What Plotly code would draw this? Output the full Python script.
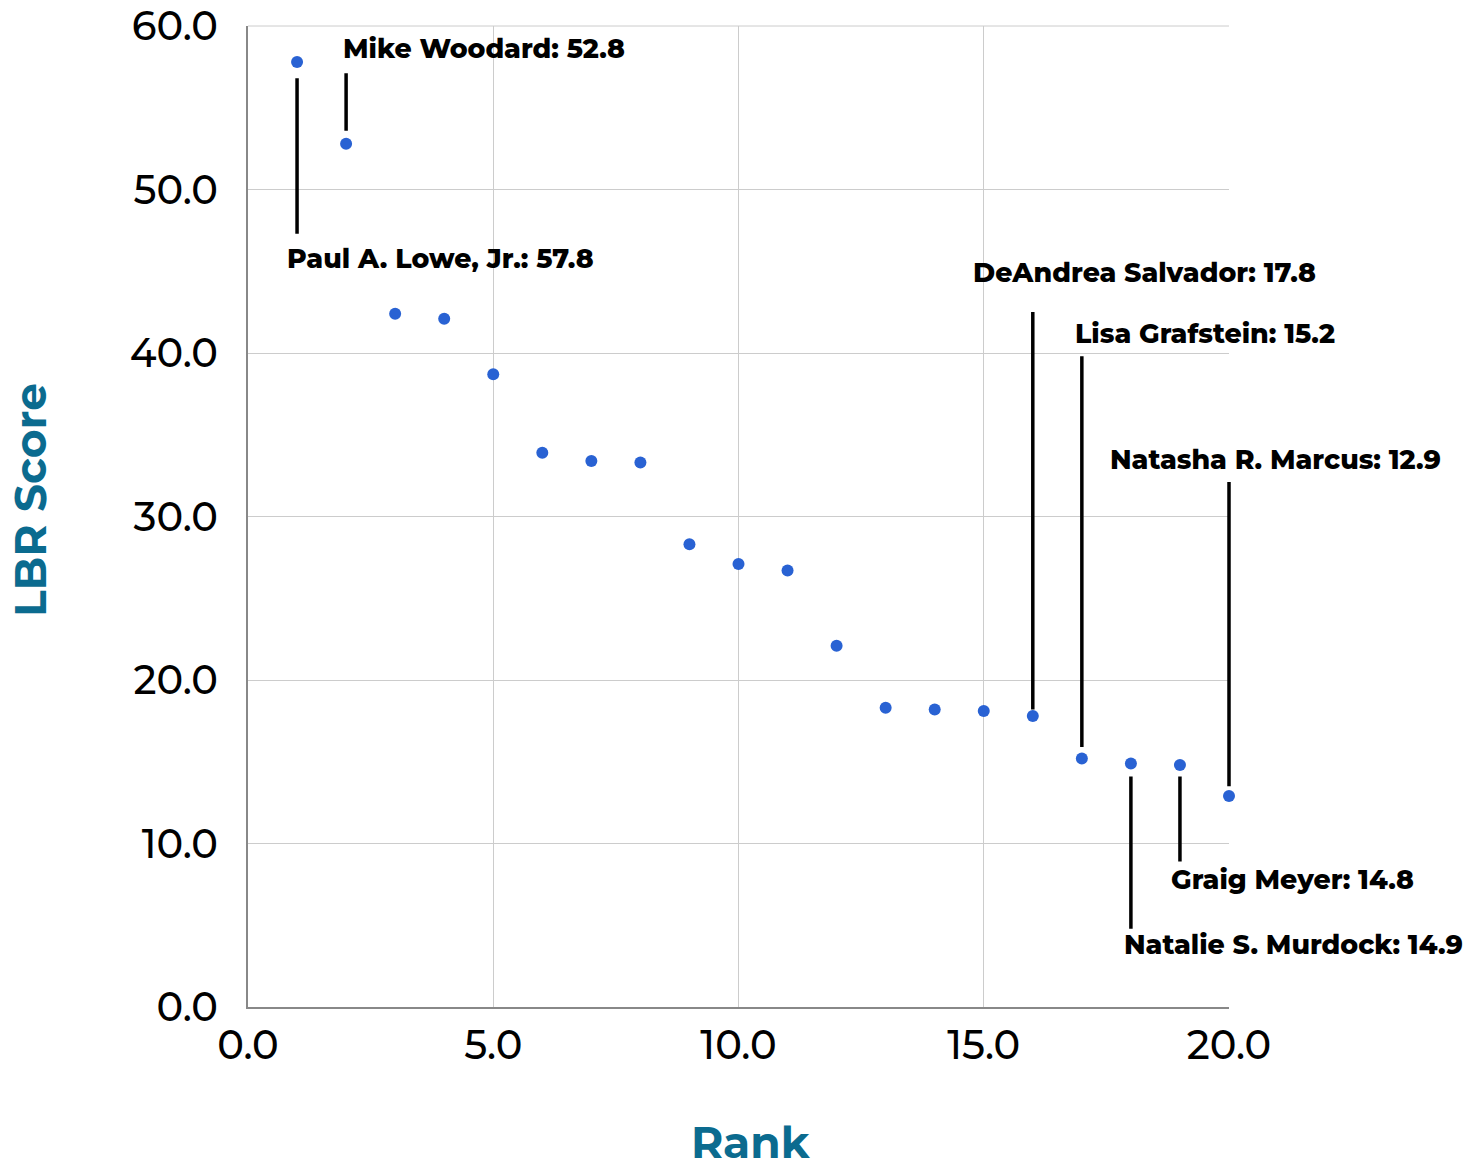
import plotly.graph_objects as go

ranks = list(range(1, 21))
scores = [57.8, 52.8, 42.4, 42.1, 38.7, 33.9, 33.4, 33.3, 28.3, 27.1,
          26.7, 22.1, 18.3, 18.2, 18.1, 17.8, 15.2, 14.9, 14.8, 12.9]

# labelled points
lab_names = ["Paul A. Lowe, Jr.", "Mike Woodard", "DeAndrea Salvador", "Lisa Grafstein",
             "Natasha R. Marcus", "Natalie S. Murdock", "Graig Meyer"]
lab_rank = [1, 2, 16, 17, 20, 18, 19]
lab_score = [57.8, 52.8, 17.8, 15.2, 12.9, 14.9, 14.8]
# leader line extents (data units) and label positions
line_y0 = [56.8, 53.6, 18.2, 15.9, 13.5, 14.1, 14.1]
line_y1 = [47.2, 57.2, 42.6, 39.9, 32.2, 4.7, 8.8]
lab_x = [0.75, 1.9, 14.74, 16.82, 17.53, 17.82, 18.78]
lab_y = [45.8, 58.6, 44.9, 41.2, 33.5, 3.8, 7.8]

FONT = "Montserrat, 'Open Sans', sans-serif"
TEAL = "#0b6b8f"

fig = go.Figure()

for n, r, s, y0, y1, lx, ly in zip(lab_names, lab_rank, lab_score, line_y0, line_y1, lab_x, lab_y):
    # leader line (annotation arrows are not clipped at the plot edge)
    fig.add_annotation(x=r, y=y0, ax=r, ay=y1, xref="x", yref="y", axref="x", ayref="y",
                       text="", showarrow=True, arrowhead=0, arrowwidth=3.5,
                       arrowcolor="black", standoff=0, startstandoff=0)
    fig.add_annotation(x=lx, y=ly, xref="x", yref="y", text=f"{n}: {s}",
                       showarrow=False, xanchor="left", yanchor="middle",
                       font=dict(family=FONT, size=26.8, color="black", weight=800))

fig.add_trace(go.Scatter(x=ranks, y=scores, mode="markers", cliponaxis=False,
                         marker=dict(color="#2962d3", size=12), hoverinfo="x+y"))

# axis titles
fig.add_annotation(x=0.513, y=-0.1376, xref="paper", yref="paper", text="Rank",
                   showarrow=False, xanchor="center", yanchor="middle",
                   font=dict(family=FONT, size=44, color=TEAL, weight=700))
fig.add_annotation(x=-0.222, y=0.517, xref="paper", yref="paper", text="LBR Score",
                   showarrow=False, xanchor="center", yanchor="middle", textangle=-90,
                   font=dict(family=FONT, size=44, color=TEAL, weight=700))

# top frame line
fig.add_shape(type="line", xref="paper", yref="paper", x0=0, x1=1, y0=1, y1=1,
              line=dict(color="#cccccc", width=1), layer="below")

# page body has an 8px margin, so the figure is 8px smaller on the left/top
fig.update_layout(
    width=1466, height=1154,
    margin=dict(l=240, r=245, t=18, b=155, autoexpand=False),
    paper_bgcolor="white", plot_bgcolor="white",
    showlegend=False,
    font=dict(family=FONT, color="black"),
)
fig.update_xaxes(range=[0, 20], dtick=5, tickformat=".1f", automargin=False,
                 showgrid=True, gridcolor="#cccccc", gridwidth=1,
                 showline=True, linecolor="#888888", linewidth=2,
                 zeroline=False, ticks="", ticklabelstandoff=2, ticklabeloverflow="allow",
                 tickfont=dict(family=FONT, size=40, color="black", weight=500))
fig.update_yaxes(range=[0, 60], dtick=10, tickformat=".1f", automargin=False,
                 showgrid=True, gridcolor="#cccccc", gridwidth=1,
                 showline=True, linecolor="#888888", linewidth=2,
                 zeroline=False, ticks="", ticklabelstandoff=20, ticklabeloverflow="allow",
                 tickfont=dict(family=FONT, size=40, color="black", weight=500))

fig.write_html("out.html")
